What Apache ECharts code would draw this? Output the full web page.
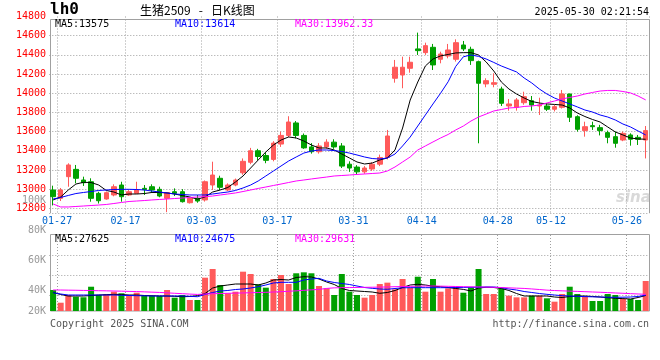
<!DOCTYPE html>
<html><head><meta charset="utf-8">
<script src="https://cdn.jsdelivr.net/npm/echarts@6/dist/echarts.min.js"></script>
<style>html,body{margin:0;padding:0;background:#fff}#c{width:660px;height:360px}</style>
</head><body><div id="c"></div>
<script>
const dates = ['01-27','02-05','02-06','02-07','02-10','02-11','02-12','02-13','02-14','02-17','02-18','02-19','02-20','02-21','02-24','02-25','02-26','02-27','02-28','03-03','03-04','03-05','03-06','03-07','03-10','03-11','03-12','03-13','03-14','03-17','03-18','03-19','03-20','03-21','03-24','03-25','03-26','03-27','03-28','03-31','04-01','04-02','04-03','04-07','04-08','04-09','04-10','04-11','04-14','04-15','04-16','04-17','04-18','04-21','04-22','04-23','04-24','04-25','04-28','04-29','04-30','05-06','05-07','05-08','05-09','05-12','05-13','05-14','05-15','05-16','05-19','05-20','05-21','05-22','05-23','05-26','05-27','05-28','05-29'];
// [open, close, low, high]
const candles = [
[12991,12921,12830,13036],[12904,12991,12876,13012],[13130,13252,13025,13269],[13206,13113,13061,13252],[13095,13067,13033,13130],
[13077,12904,12869,13113],[12956,12879,12850,12973],[12897,12963,12890,12975],[12939,13025,12925,13050],[13043,12921,12869,13077],
[12939,12973,12930,12990],[12956,12991,12950,13077],[13008,12995,12939,13043],[13025,12991,12960,13050],[12998,12928,12915,13025],
[12904,12963,12760,12970],[12973,12956,12928,13008],[12973,12869,12860,13000],[12858,12904,12850,12915],[12904,12876,12858,12939],
[12887,13077,12870,13090],[13043,13147,12991,13286],[13113,13019,12990,13140],[12991,13043,12980,13060],[13043,13095,13030,13110],
[13170,13290,13150,13320],[13280,13400,13260,13430],[13400,13340,13300,13420],[13350,13300,13270,13380],[13310,13480,13290,13500],
[13470,13560,13440,13600],[13560,13700,13540,13760],[13690,13560,13530,13710],[13560,13430,13420,13580],[13440,13390,13370,13480],
[13390,13450,13370,13480],[13440,13490,13420,13520],[13490,13440,13420,13520],[13450,13240,13220,13480],[13260,13220,13180,13290],
[13230,13180,13150,13250],[13180,13220,13160,13240],[13210,13260,13190,13280],[13260,13330,13240,13360],[13330,13554,13310,13617],
[14156,14271,14110,14347],[14190,14271,14052,14381],[14260,14323,14214,14381],[14462,14444,14399,14632],[14423,14496,14400,14527],
[14479,14295,14242,14514],[14354,14409,14312,14433],[14388,14451,14364,14514],[14354,14527,14330,14562],[14503,14462,14440,14545],
[14458,14340,14295,14485],[14329,14104,13478,14340],[14097,14131,14062,14156],[14093,14110,14062,14208],[14044,13895,13867,14068],
[13867,13888,13818,13940],[13853,13930,13818,13950],[13901,13964,13880,14016],[13922,13877,13818,13971],[13867,13877,13773,13953],
[13867,13833,13815,13898],[13833,13860,13810,13880],[13853,13992,13840,14034],[13992,13749,13700,13995],[13755,13624,13600,13770],
[13610,13651,13547,13703],[13662,13651,13617,13703],[13641,13610,13560,13670],[13589,13540,13478,13610],[13547,13478,13432,13600],
[13512,13582,13500,13600],[13565,13520,13453,13582],[13540,13520,13460,13565],[13512,13610,13320,13658]
];
const ma5 = [12887,12918,12991,13053,13071,13069,13043,12986,12970,12939,12949,12949,12954,12965,12965,12960,12949,12933,12918,12895,12918,12970,12991,13017,13074,13137,13220,13304,13387,13460,13512,13544,13533,13502,13460,13429,13429,13408,13366,13325,13283,13262,13272,13304,13325,13408,13637,13929,14117,14284,14357,14389,14404,14420,14423,14423,14399,14326,14232,14117,14044,13992,13950,13914,13898,13888,13883,13877,13846,13794,13757,13726,13700,13648,13596,13565,13533,13523,13520];
const ma10 = [12897,12913,12934,12954,12965,12975,12986,12991,12996,12998,12998,12996,12991,12980,12970,12960,12949,12944,12939,12939,12939,12949,12960,12970,12986,13012,13043,13085,13137,13189,13241,13293,13335,13376,13397,13408,13408,13402,13392,13376,13356,13335,13319,13314,13325,13366,13450,13543,13658,13773,13888,14000,14120,14280,14380,14399,14384,14357,14321,14284,14253,14222,14159,14107,14044,13992,13950,13919,13888,13857,13825,13804,13773,13752,13721,13679,13648,13606,13565];
const ma30 = [12845,12814,12814,12819,12824,12829,12834,12840,12850,12861,12871,12876,12881,12887,12892,12897,12902,12907,12913,12918,12921,12928,12939,12949,12960,12975,12991,13007,13022,13038,13053,13069,13085,13095,13106,13116,13126,13137,13142,13147,13153,13158,13163,13168,13189,13231,13283,13335,13408,13450,13492,13533,13570,13617,13658,13710,13752,13783,13815,13830,13846,13851,13862,13867,13877,13898,13919,13940,13956,13971,13992,14008,14023,14029,14029,14018,14003,13971,13930];
const volumes = [36750,14500,28000,25000,24000,42500,28000,29750,33800,31000,26250,32000,26800,26250,26250,36750,23300,28000,19250,19250,58300,73500,45500,31000,33800,68800,64750,46700,40800,56000,63000,47250,66000,67700,66000,43750,39700,28000,64750,33800,28000,23300,28000,47250,49600,37900,56000,40800,60000,33800,56000,33800,39700,42500,32000,41400,73500,29750,29750,39700,26800,23900,23900,26800,26800,22200,16300,29750,42500,29750,25000,17500,17500,29750,28000,21000,21000,19250,52500];
const volMa5 = [32400,28900,26250,26250,26250,27100,28000,28500,29200,28900,28000,28000,27100,26800,26250,26250,25700,25000,25400,26800,30600,40250,43750,45500,47250,47250,47250,45500,49000,54250,55100,54250,58600,60000,59500,56000,50750,46400,39400,35900,35000,34100,33250,31000,32400,35900,41100,45500,46700,45500,43400,42500,41100,39400,37800,35000,40250,41500,41100,39400,35900,30600,26250,26250,26250,26250,24500,23600,25400,26250,26250,25400,24500,23300,22200,21700,21000,23600,27100];
const volMa10 = [32000,29750,28000,28000,28000,28000,28000,28000,28000,27500,27100,26800,26600,26250,26250,26250,26250,26250,25700,25000,28900,32400,35000,35900,37600,38500,40250,42500,45500,49000,50200,50200,50200,54250,56000,57200,52500,49900,48100,46400,43750,41100,39700,38500,38000,39400,40600,40800,40800,40800,40800,40800,40800,41100,41300,41500,41600,42000,42000,40800,38500,36750,34100,32400,30600,29200,28000,26800,26250,25700,25200,24800,24500,24150,24000,24150,24500,25400,27650];
const volMa30 = [36750,36750,36500,36300,36000,35800,35500,35300,35000,34700,34300,34000,33500,33000,32500,31800,31000,30300,29600,29000,29700,30200,30600,31000,31300,31600,32000,32300,32700,33200,33800,34500,35300,36200,37000,37800,39500,40500,40800,41000,41200,41400,41600,41800,42100,42500,42800,43100,43400,43600,43750,43500,43200,42900,42600,42300,42100,41800,41500,41000,40500,40000,39500,38600,37600,36500,35800,35300,34800,34300,33800,33300,32800,32200,31600,31000,30400,29800,29200];
const xTickLabels = ['01-27','02-17','03-03','03-17','03-31','04-14','04-28','05-12','05-26'];
const priceTicks = [12800,13000,13200,13400,13600,13800,14000,14200,14400,14600,14800];
const priceGridValues = [12750,12800,13000,13200,13400,13600,13800,14000,14200,14400,14600];
const volGridValues = [28000,63000,98000];
const volTicks = [20000,40000,60000,80000,100000];
const priceLegend = ['MA5:13575','MA10:13614','MA30:13962.33'];
const volLegend = ['MA5:27625','MA10:24675','MA30:29631'];
const titleText = '生猪2509   -   日K线图';
const codeText = 'lh0';
const timeText = '2025-05-30 02:21:54';

const RED = '#ff5a5a', GREEN = '#00a000';
const MONO = '"DejaVu Sans Mono", monospace';
const legendColors = ['#000000','#0000ff','#ff00ff'];
const dotted = {show:true, lineStyle:{color:'#a0a0a0', type:[1,2], width:1}};
const isLabel = i => xTickLabels.includes(dates[i]);
const vSplit = {show:true, interval:(i)=> i>0 && isLabel(i-1), lineStyle:{color:'#a0a0a0', type:[1,2], width:1}};

const chart = echarts.init(document.getElementById('c'), null, {renderer:'canvas'});
const lineS = (data, color, xi, yi) => ({type:'line', data, xAxisIndex:xi, yAxisIndex:yi, showSymbol:false, symbol:'none', z:5,
  lineStyle:{color, width:1}, itemStyle:{color}, silent:true});

const graphics = [
  {type:'polyline', shape:{points:[[50.5,213],[50.5,19.5],[649.5,19.5],[649.5,213]]}, style:{stroke:'#a0a0a0', fill:null, lineWidth:1}, silent:true},
  {type:'rect', shape:{x:50.5, y:234.5, width:599, height:76.5}, style:{stroke:'#a0a0a0', fill:null, lineWidth:1}, silent:true},
  {type:'text', x:50, y:10, style:{text:codeText, fill:'#000', font:'bold 16px '+MONO, textVerticalAlign:'middle', verticalAlign:'middle'}},
  {type:'text', x:140, y:10, style:{text:titleText, fill:'#000', font:'12px "Noto Sans CJK SC", sans-serif', textVerticalAlign:'middle', verticalAlign:'middle'}},
  {type:'text', x:649, y:12, style:{text:timeText, fill:'#000', font:'10px '+MONO, textAlign:'right', align:'right', textVerticalAlign:'middle', verticalAlign:'middle'}},
  {type:'text', x:50, y:324, style:{text:'Copyright 2025 SINA.COM', fill:'#555', font:'10px '+MONO, textVerticalAlign:'middle', verticalAlign:'middle'}},
  {type:'text', x:649, y:324, style:{text:'http://finance.sina.com.cn', fill:'#555', font:'10px '+MONO, textAlign:'right', align:'right', textVerticalAlign:'middle', verticalAlign:'middle'}},
  {type:'text', x:616, y:198, style:{text:'sina', fill:'rgba(180,180,180,0.5)', font:'italic bold 15px "DejaVu Sans", sans-serif', textVerticalAlign:'middle', verticalAlign:'middle'}}
];
const legendX = [55,175,295];
priceLegend.forEach((t,k)=>graphics.push({type:'text', x:legendX[k], y:24, style:{text:t, fill:legendColors[k], font:'10px '+MONO, textVerticalAlign:'middle', verticalAlign:'middle'}}));
volLegend.forEach((t,k)=>graphics.push({type:'text', x:legendX[k], y:239, style:{text:t, fill:legendColors[k], font:'10px '+MONO, textVerticalAlign:'middle', verticalAlign:'middle'}}));

chart.setOption({
  animation:false,
  backgroundColor:'#ffffff',
  grid:[
    {left:49.3, right:10.5, top:16.5, bottom:146.9},
    {left:49.3, right:10.5, top:235, bottom:49},
    {left:49.3, right:10.5, top:200, bottom:40}
  ],
  xAxis:[
    {type:'category', gridIndex:0, data:dates, boundaryGap:true, axisLine:{show:false}, axisTick:{show:false},
      axisLabel:{interval:(i)=>isLabel(i), color:'#0066cc', fontFamily:MONO, fontSize:10, margin:3, padding:[0,0,0,8], hideOverlap:false},
      splitLine:vSplit},
    {type:'category', gridIndex:1, data:dates, boundaryGap:true, axisLine:{show:false}, axisTick:{show:false}, axisLabel:{show:false}, splitLine:vSplit},
    {type:'value', gridIndex:2, show:false, min:0, max:1}
  ],
  yAxis:[
    {type:'value', gridIndex:0, min:12750, max:14800, axisLine:{show:false},
      axisTick:{show:false, customValues:priceGridValues},
      axisLabel:{customValues:priceTicks, color:'#ff0000', fontFamily:MONO, fontSize:10, margin:3.3, formatter:(v)=>String(v)},
      splitLine:dotted},
    {type:'value', gridIndex:1, min:0, max:133000, axisLine:{show:false},
      axisTick:{show:false, customValues:volGridValues}, axisLabel:{show:false}, splitLine:dotted},
    {type:'value', gridIndex:2, min:20000, max:100000, axisLine:{show:false}, axisTick:{show:false}, splitLine:{show:false},
      axisLabel:{customValues:volTicks, color:'#999', fontFamily:MONO, fontSize:10, margin:3.3,
        formatter:(v)=> v===20000 ? '{lift|20K}' : (v/1000)+'K',
        rich:{lift:{padding:[0,0,18,0], color:'#999', fontFamily:MONO, fontSize:10}}}}
  ],
  graphic:graphics,
  series:[
    {type:'candlestick', xAxisIndex:0, yAxisIndex:0, data:candles, barWidth:5, silent:true,
      itemStyle:{color:RED, color0:GREEN, borderColor:RED, borderColor0:GREEN, borderWidth:1}},
    lineS(ma5,'#000000',0,0), lineS(ma10,'#0000ff',0,0), lineS(ma30,'#ff00ff',0,0),
    {type:'bar', xAxisIndex:1, yAxisIndex:1, data:volumes, barWidth:6, silent:true,
      itemStyle:{color:(p)=> candles[p.dataIndex][1] >= candles[p.dataIndex][0] ? RED : GREEN}},
    lineS(volMa5,'#000000',1,1), lineS(volMa10,'#0000ff',1,1), lineS(volMa30,'#ff00ff',1,1)
  ]
});
</script></body></html>
